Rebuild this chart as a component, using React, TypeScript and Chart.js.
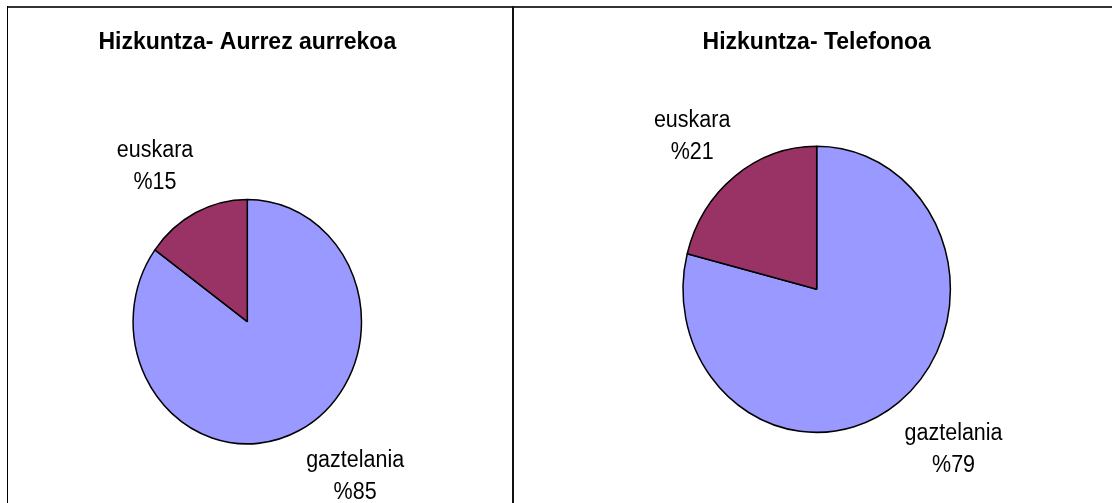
import React, { useEffect, useRef } from "react";
import { Chart, registerables } from "chart.js";

Chart.register(...registerables);

// ---- data ----
const categories = ["gaztelania", "euskara"];
const faceToFaceValues = [85, 15];
const phoneValues = [79, 21];
const chartTitles = ["Hizkuntza- Aurrez aurrekoa", "Hizkuntza- Telefonoa"];
const sliceColors = ["#9999FF", "#993366"];

const FONT = "'Liberation Sans', Arial, Helvetica, sans-serif";
const STRETCH_Y = 1.07;

// vertical stretch of the pie around its centre (the reference is slightly taller than wide)
const stretchPlugin = {
  id: "pieStretch",
  beforeDatasetsDraw(chart: any) {
    const arc = chart.getDatasetMeta(0).data[0];
    if (!arc) return;
    const ctx = chart.ctx;
    ctx.save();
    ctx.translate(arc.x, arc.y);
    ctx.scale(1, STRETCH_Y);
    ctx.translate(-arc.x, -arc.y);
  },
  afterDatasetsDraw(chart: any) {
    chart.ctx.restore();
  },
};

// two-line outside labels: category + "%value"
const sliceLabelPlugin = {
  id: "sliceLabels",
  afterDraw(chart: any, _args: any, opts: any) {
    const ctx = chart.ctx;
    const meta = chart.getDatasetMeta(0);
    const values = chart.data.datasets[0].data as number[];
    const labels = chart.data.labels as string[];
    const reach: number[][] = opts.reach || [];
    meta.data.forEach((arc: any, i: number) => {
      const mid = (arc.startAngle + arc.endAngle) / 2;
      const rx = arc.outerRadius;
      const ry = arc.outerRadius * STRETCH_Y;
      const [kx, ky] = reach[i] || [1.5, 1.4];
      const px = arc.x + Math.cos(mid) * rx * kx;
      const py = arc.y + Math.sin(mid) * ry * ky;
      const lines = [labels[i], "%" + values[i]];
      ctx.save();
      ctx.fillStyle = "#000";
      ctx.font = `21.5px ${FONT}`;
      ctx.textAlign = "center";
      ctx.textBaseline = "middle";
      lines.forEach((t, j) => {
        const ly = py + (j - (lines.length - 1) / 2) * 32;
        ctx.save();
        ctx.translate(px, ly);
        ctx.scale(1, STRETCH_Y);
        ctx.fillText(t, 0, 0);
        ctx.restore();
      });
      ctx.restore();
    });
  },
};

type PieProps = {
  title: string;
  values: number[];
  width: number;
  height: number;
  radius: number;
  padding: { left: number; right: number; top: number; bottom: number };
  titlePad: { top: number; bottom: number };
  reach: number[][];
};

function PiePanel(props: PieProps) {
  const ref = useRef<HTMLCanvasElement | null>(null);
  useEffect(() => {
    if (!ref.current) return;
    const chart = new Chart(ref.current, {
      type: "pie",
      data: {
        labels: categories,
        datasets: [
          {
            data: props.values,
            backgroundColor: sliceColors,
            borderColor: "#000000",
            borderWidth: 1.5,
            hoverOffset: 0,
          },
        ],
      },
      options: {
        responsive: false,
        animation: false,
        devicePixelRatio: 1,
        radius: props.radius,
        events: [],
        layout: { padding: props.padding },
        plugins: {
          legend: { display: false },
          tooltip: { enabled: false },
          title: {
            display: true,
            text: props.title,
            color: "#000",
            font: { family: FONT, size: 23, weight: "bold" },
            padding: props.titlePad,
          },
          sliceLabels: { reach: props.reach },
        } as any,
      },
      plugins: [stretchPlugin, sliceLabelPlugin],
    } as any);
    return () => chart.destroy();
  }, []);
  return <canvas ref={ref} width={props.width} height={props.height} style={{ display: "block" }} />;
}

export default function App() {
  return (
    <div
      style={{
        position: "absolute",
        left: 0,
        top: 0,
        width: 1112,
        height: 503,
        overflow: "hidden",
        background: "#fff",
      }}
    >
      <div style={{ position: "absolute", left: 0, top: 0 }}>
        <PiePanel
          title={chartTitles[0]}
          values={faceToFaceValues}
          width={513}
          height={503}
          radius={114.2}
          padding={{ left: 0, right: 18.4, top: 0, bottom: 0 }}
          titlePad={{ top: 29, bottom: 83.8 }}
          reach={[
            [2.08, 1.42],
            [1.78, 1.42],
          ]}
        />
      </div>
      <div style={{ position: "absolute", left: 513, top: 0 }}>
        <PiePanel
          title={chartTitles[1]}
          values={phoneValues}
          width={599}
          height={503}
          radius={133.7}
          padding={{ left: 8.4, right: 0, top: 0, bottom: 0 }}
          titlePad={{ top: 29, bottom: 19 }}
          reach={[
            [1.67, 1.42],
            [1.52, 1.35],
          ]}
        />
      </div>
      {/* panel frame lines */}
      <div style={{ position: "absolute", left: 7, top: 6, width: 1105, height: 2, background: "#333" }} />
      <div style={{ position: "absolute", left: 7, top: 6, width: 1, height: 497, background: "#000" }} />
      <div style={{ position: "absolute", left: 512, top: 6, width: 2, height: 497, background: "#111" }} />
    </div>
  );
}
